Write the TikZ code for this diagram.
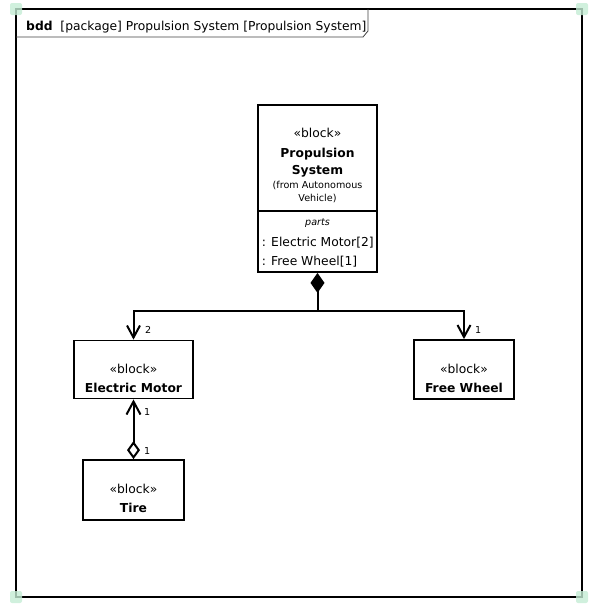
\documentclass[tikz,border=0pt]{standalone}
\usepackage{fontspec}
\setmainfont{DejaVu Sans}
\usetikzlibrary{arrows.meta}
\definecolor{handlegreen}{RGB}{196,236,212}
\begin{document}
\begin{tikzpicture}[x=1pt, y=-1pt, line width=1.8pt,
  every node/.style={font=\fontsize{12.3}{14}\selectfont},
  block/.style={draw, line width=1.8pt, inner sep=0pt},
  bold/.style={font=\fontsize{12.3}{14}\selectfont\bfseries},
  small/.style={font=\fontsize{9.6}{11}\selectfont},
  conn/.style={line width=2pt},
  open barb/.style={conn, -{Straight Barb[length=12pt,width=13pt]}}]
  \useasboundingbox (0,0) rectangle (602,606);
  % Frame and header tab
  \draw (16,9) rectangle (582,597);
  \draw[line width=0.8pt, black!75] (16,37) -- (363,37) -- (368,31) -- (368,9);
  \node[anchor=base west] (title) at (22,30){\textbf{bdd}\ \ [package] Propulsion System [Propulsion System]};
  % Blocks
  \node[block, minimum width=119pt, minimum height=167pt] (ps) at (317.5,188.5){};
  \draw[line width=1.4pt] (ps.west |- 0,211) -- (ps.east |- 0,211);
  \node[block, minimum width=119pt, minimum height=58pt] (em) at (133.5,369.5){};
  \node[block, minimum width=100pt, minimum height=59pt] (fw) at (464,369.5){};
  \node[block, minimum width=101pt, minimum height=60pt] (tire) at (133.5,490){};
  % Block texts
  \node[anchor=base] (psst) at (317.5,137){«block»};
  \node[bold, anchor=base] (psname1) at (317.5,157){Propulsion};
  \node[bold, anchor=base] (psname2) at (317.5,174){System};
  \node[small, anchor=base] (psfrom1) at (317.5,188){(from Autonomous};
  \node[small, anchor=base] (psfrom2) at (317.5,201){Vehicle)};
  \node[anchor=base, font=\fontsize{9.6}{11}\selectfont\itshape] (parts) at (317.5,225){parts};
  \node[anchor=base west, inner xsep=0pt] (part1) at (261,246){: Electric Motor[2]};
  \node[anchor=base west, inner xsep=0pt] (part2) at (261,265){: Free Wheel[1]};
  \node[anchor=base] (emst) at (133.5,373){«block»};
  \node[bold, anchor=base] (emname) at (133.5,392){Electric Motor};
  \node[anchor=base] (fwst) at (464,373){«block»};
  \node[bold, anchor=base] (fwname) at (464,392){Free Wheel};
  \node[anchor=base] (tirest) at (133.5,493){«block»};
  \node[bold, anchor=base] (tirename) at (133.5,512){Tire};
  % Composition
  \coordinate (jn) at (317.5,311);
  \draw[conn, {Diamond[length=20pt,width=14pt]}-] (ps.south) -- (jn);
  \draw[open barb] (jn) -| (em.north);
  \draw[open barb] (jn) -| (fw.north);
  \node[small, anchor=base west] (m2) at (141,333){2};
  \node[small, anchor=base west] (m1) at (471,333){1};
  % Shared aggregation
  \draw[conn, {Diamond[open,length=18pt,width=13pt]}-{Straight Barb[length=13pt,width=14pt]}] (tire.north) -- (em.south);
  \node[small, anchor=base west] (m3) at (140,415){1};
  \node[small, anchor=base west] (m4) at (140,454){1};
  % Selection handles
  \foreach \x/\y in {16/9, 582/9, 16/597, 582/597}
    \fill[handlegreen, opacity=.8, rounded corners=2pt] (\x-6,\y-6) rectangle (\x+6,\y+6);
\end{tikzpicture}
\end{document}
